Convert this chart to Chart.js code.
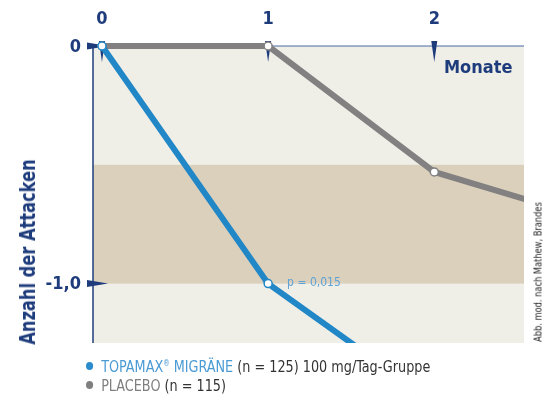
<!DOCTYPE html>
<html lang="de">
<head>
<meta charset="UTF-8">
<title>Anzahl der Attacken</title>
<script src="https://cdn.jsdelivr.net/npm/chart.js"></script>
<style>
  body { margin: 0; background: #fff; }
  .wrap { position: relative; width: 553px; height: 400px; font-family: 'Liberation Sans Narrow', 'DejaVu Sans Condensed', sans-serif; }
  canvas { position: absolute; left: 0; top: 0; }
  .ytitle { position: absolute; left: 28px; top: 252px; transform: translate(-50%, -50%) rotate(-90deg) scaleX(0.86); white-space: nowrap; color: #1e3c7c; font-weight: bold; font-size: 21px; }
  .source { position: absolute; left: 538px; top: 272px; transform: translate(-50%, -50%) rotate(-90deg) scaleX(0.92); white-space: nowrap; color: #222; font-size: 10px; }
  .legend { position: absolute; left: 86px; top: 354px; font-size: 16px; color: #333; line-height: 19px; transform: scaleX(0.89); transform-origin: left top; }
  .legend div { white-space: nowrap; }
  .dot { display: inline-block; width: 8px; height: 8px; border-radius: 50%; margin-right: 9px; vertical-align: 2px; }
</style>
</head>
<body>
<div class="wrap">
  <canvas id="c" width="553" height="400"></canvas>
  <div class="ytitle">Anzahl der Attacken</div>
  <div class="source">Abb. mod. nach Mathew, Brandes</div>
  <div class="legend">
    <div><span class="dot" style="background:#2a8ccc"></span><span style="color:#4a9ad4">TOPAMAX<sup style="font-size:8px">®</sup> MIGRÄNE</span> (n = 125) 100 mg/Tag-Gruppe</div>
    <div><span class="dot" style="background:#7f7f7f"></span><span style="color:#7f7f7f">PLACEBO</span> (n = 115)</div>
  </div>
</div>
<script>
  // months after start
  const months = [0, 1, 2, 3];
  const topamax = [0, -1.0, -1.5];
  const placebo = [0, 0, -0.53, -0.74];

  const xTicks = [0, 1, 2];
  const xTickLabels = ['0', '1', '2'];
  const yTicks = [0, -1];
  const yTickLabels = ['0', '-1,0'];
  const band = [-0.5, -1.0];

  const navy = '#1e3c7c';
  const font = "'Liberation Sans Narrow', 'DejaVu Sans Condensed', sans-serif";

  const decor = {
    id: 'decor',
    beforeDatasetsDraw(chart) {
      const { ctx, chartArea: a, scales: { x, y } } = chart;
      ctx.save();
      ctx.fillStyle = '#efeee7';
      ctx.fillRect(a.left, a.top, a.right - a.left, a.bottom - a.top);
      const b1 = y.getPixelForValue(band[0]), b2 = y.getPixelForValue(band[1]);
      ctx.fillStyle = '#dbd0bc';
      ctx.fillRect(a.left, b1, a.right - a.left, b2 - b1);

      // axis lines
      ctx.strokeStyle = navy;
      ctx.lineWidth = 1.5;
      ctx.beginPath();
      ctx.moveTo(a.left, a.top); ctx.lineTo(a.left, a.bottom);
      ctx.stroke();
      ctx.strokeStyle = '#4a68a4';
      ctx.lineWidth = 1;
      ctx.beginPath();
      ctx.moveTo(a.left, a.top); ctx.lineTo(a.right, a.top);
      ctx.stroke();

      ctx.fillStyle = navy;
      ctx.font = 'bold 18px ' + font;
      ctx.textBaseline = 'middle';
      // x ticks: downward wedges + labels on top
      ctx.textAlign = 'center';
      xTicks.forEach((v, i) => {
        const px = x.getPixelForValue(v);
        ctx.beginPath();
        ctx.moveTo(px - 3, a.top - 5);
        ctx.lineTo(px + 3, a.top - 5);
        ctx.lineTo(px, a.top + 16);
        ctx.closePath();
        ctx.fill();
        ctx.fillText(xTickLabels[i], px, 19);
      });
      // y ticks: right-pointing wedges + labels
      ctx.textAlign = 'right';
      yTicks.forEach((v, i) => {
        const py = y.getPixelForValue(v);
        ctx.beginPath();
        ctx.moveTo(a.left - 6, py - 3.5);
        ctx.lineTo(a.left - 6, py + 3.5);
        ctx.lineTo(a.left + 15, py);
        ctx.closePath();
        ctx.fill();
        ctx.fillText(yTickLabels[i], a.left - 12, py + 1);
      });
      ctx.textAlign = 'left';
      ctx.fillText('Monate', 444, 68);
      ctx.restore();
    },
    afterDatasetsDraw(chart) {
      const { ctx, scales: { x, y } } = chart;
      ctx.save();
      ctx.fillStyle = '#5ea2d6';
      ctx.font = '12px ' + font;
      ctx.textBaseline = 'middle';
      ctx.fillText('p = 0,015', x.getPixelForValue(1) + 19, y.getPixelForValue(-1) - 1);
      ctx.restore();
    }
  };

  const pts = arr => arr.map((v, i) => ({ x: months[i], y: v }));

  new Chart(document.getElementById('c'), {
    type: 'line',
    data: {
      datasets: [
        {
          label: 'TOPAMAX MIGRÄNE',
          data: pts(topamax),
          borderColor: '#2187c7',
          borderWidth: 6,
          pointBackgroundColor: '#fff',
          pointBorderColor: '#2187c7',
          pointBorderWidth: 1.5,
          pointRadius: 4,
          tension: 0,
          clip: { left: 10, top: 10, right: 0, bottom: 0 }
        },
        {
          label: 'PLACEBO',
          data: pts(placebo),
          borderColor: '#828080',
          borderWidth: 6,
          pointBackgroundColor: '#fff',
          pointBorderColor: '#828080',
          pointBorderWidth: 1.5,
          pointRadius: 4,
          tension: 0,
          clip: { left: 10, top: 10, right: 0, bottom: 0 }
        }
      ]
    },
    options: {
      responsive: false,
      animation: false,
      devicePixelRatio: 1,
      layout: { padding: { left: 93, top: 46, right: 29, bottom: 57 } },
      plugins: { legend: { display: false }, tooltip: { enabled: false } },
      scales: {
        x: { type: 'linear', min: -0.054, max: 2.54, display: false },
        y: { type: 'linear', min: -1.25, max: 0, display: false }
      }
    },
    plugins: [decor]
  });
</script>
</body>
</html>
